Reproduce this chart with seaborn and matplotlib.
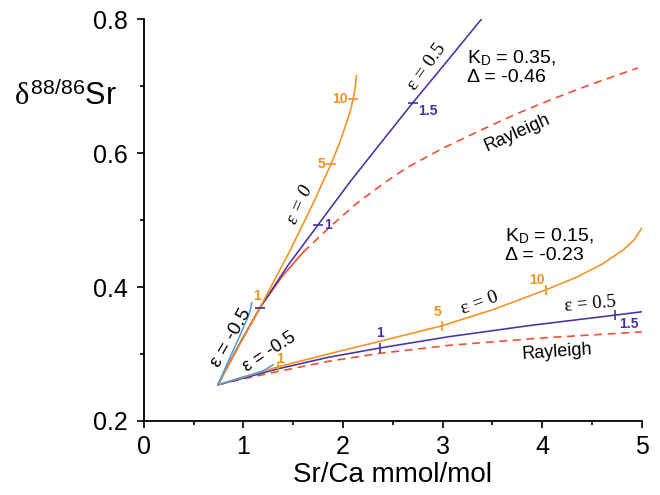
import numpy as np
import pandas as pd
import seaborn as sns
import matplotlib
matplotlib.use("Agg")
import matplotlib.pyplot as plt

# ---- data ----
# KD = 0.35 group (upper)
up_orange_x = [0.743, 0.95, 1.165, 1.47, 1.70, 1.88, 1.96, 2.03, 2.075, 2.10, 2.12, 2.135]
up_orange_y = [0.254, 0.311, 0.369, 0.455, 0.525, 0.584, 0.613, 0.643, 0.664, 0.680, 0.696, 0.716]
up_purple_x = [0.743, 0.95, 1.165, 1.45, 1.75, 2.07, 2.40, 2.70, 3.05, 3.39]
up_purple_y = [0.254, 0.312, 0.369, 0.433, 0.493, 0.557, 0.619, 0.675, 0.738, 0.800]
up_red_x = [0.743, 0.95, 1.165, 1.40, 1.60, 1.87, 2.13, 2.40, 2.64, 3.00, 3.41, 3.75, 4.11, 4.50, 4.96]
up_red_y = [0.254, 0.312, 0.369, 0.418, 0.452, 0.490, 0.524, 0.554, 0.578, 0.607, 0.636, 0.659, 0.681, 0.703, 0.727]
up_blue_x = [0.743, 0.85, 0.96, 1.047, 1.06, 1.075, 1.083]
up_blue_y = [0.254, 0.290, 0.326, 0.356, 0.362, 0.370, 0.377]

# KD = 0.15 group (lower)
lo_orange_x = [0.743, 1.0, 1.35, 1.85, 2.37, 2.99, 3.5, 4.04, 4.35, 4.6, 4.81, 4.92, 5.0]
lo_orange_y = [0.254, 0.266, 0.281, 0.300, 0.319, 0.342, 0.366, 0.396, 0.415, 0.434, 0.455, 0.470, 0.488]
lo_purple_x = [0.743, 1.0, 1.35, 1.85, 2.37, 3.07, 3.9, 4.73, 5.0]
lo_purple_y = [0.254, 0.264, 0.278, 0.295, 0.309, 0.326, 0.343, 0.358, 0.363]
lo_red_x = [0.743, 1.0, 1.35, 1.85, 2.37, 3.07, 4.0, 5.0]
lo_red_y = [0.254, 0.263, 0.274, 0.289, 0.301, 0.313, 0.324, 0.333]
lo_blue_x = [0.743, 0.9, 1.065, 1.2, 1.3]
lo_blue_y = [0.254, 0.261, 0.268, 0.275, 0.284]

# tick marks on curves (labels, positions)
up_orange_ticks = ["1", "5", "10"]
up_orange_tx = [1.165, 1.88, 2.10]
up_orange_ty = [0.369, 0.584, 0.680]
up_purple_ticks = ["", "1", "1.5"]
up_purple_tx = [1.165, 1.75, 2.70]
up_purple_ty = [0.369, 0.493, 0.675]
lo_orange_ticks = ["1", "5", "10"]
lo_orange_tx = [1.35, 2.99, 4.04]
lo_orange_ty = [0.281, 0.342, 0.396]
lo_purple_ticks = ["1", "1.5"]
lo_purple_tx = [2.37, 4.73]
lo_purple_ty = [0.309, 0.358]

RED_SOLID_END = 4  # index where upper Rayleigh switches to dashed

ORANGE = "#F7901E"
PURPLE = "#4533A6"
RED = "#F5492A"
BLUE = "#4FA0D6"

sns.set_theme(style="ticks")
plt.rcParams["font.family"] = ["Liberation Sans", "DejaVu Sans"]
plt.rcParams["mathtext.fontset"] = "custom"
plt.rcParams["mathtext.rm"] = "Liberation Sans"
plt.rcParams["mathtext.it"] = "Liberation Serif"
plt.rcParams["mathtext.bf"] = "Liberation Sans:bold"
for k in ["text.color", "axes.labelcolor", "xtick.color", "ytick.color", "axes.edgecolor"]:
    plt.rcParams[k] = "black"

fig = plt.figure(figsize=(6.6, 4.95), dpi=100)
ax = fig.add_axes([0.218, 0.1495, 0.7545, 0.8121])

lw = 1.15
def line(x, y, color, ls="-"):
    sns.lineplot(x=x, y=y, sort=False, estimator=None, color=color,
                 linewidth=lw, linestyle=ls, ax=ax, solid_joinstyle="round")

# lower group
line(lo_red_x, lo_red_y, RED, (0, (5, 3.5)))
line(lo_purple_x, lo_purple_y, PURPLE)
line(lo_orange_x, lo_orange_y, ORANGE)
line(lo_blue_x, lo_blue_y, BLUE)
# upper group
line(up_red_x[:RED_SOLID_END + 1], up_red_y[:RED_SOLID_END + 1], RED)
line(up_red_x[RED_SOLID_END:], up_red_y[RED_SOLID_END:], RED, (0, (5, 3.5)))
line(up_purple_x, up_purple_y, PURPLE)
line(up_orange_x, up_orange_y, ORANGE)
line(up_blue_x, up_blue_y, BLUE)

# curve tick marks
ax.plot(up_orange_tx, up_orange_ty, ls="none", marker="_", ms=7, mew=1.2, color=ORANGE)
ax.plot(up_purple_tx, up_purple_ty, ls="none", marker="_", ms=7, mew=1.2, color=PURPLE)
ax.plot(lo_orange_tx, lo_orange_ty, ls="none", marker="|", ms=7, mew=1.2, color=ORANGE)
ax.plot(lo_purple_tx, lo_purple_ty, ls="none", marker="|", ms=7, mew=1.2, color=PURPLE)

# tick labels on curves
num_kw = dict(fontsize=10, fontweight="bold", ha="center", va="center")
uo_off = [(-0.025, 0.017), (-0.10, 0.0), (-0.13, 0.001)]
for lab, x, y, (dx, dy) in zip(up_orange_ticks, up_orange_tx, up_orange_ty, uo_off):
    ax.text(x + dx, y + dy, lab, color=ORANGE, **num_kw)
up_off = [(0, 0), (0.10, 0.0), (0.15, -0.013)]
for lab, x, y, (dx, dy) in zip(up_purple_ticks, up_purple_tx, up_purple_ty, up_off):
    if lab:
        ax.text(x + dx, y + dy, lab, color=PURPLE, **num_kw)
lo_off = [(0.015, 0.011), (-0.04, 0.020), (-0.09, 0.014)]
for lab, x, y, (dx, dy) in zip(lo_orange_ticks, lo_orange_tx, lo_orange_ty, lo_off):
    ax.text(x + dx, y + dy, lab, color=ORANGE, **num_kw)
lp_off = [(0.0, 0.023), (0.14, -0.013)]
for lab, x, y, (dx, dy) in zip(lo_purple_ticks, lo_purple_tx, lo_purple_ty, lp_off):
    ax.text(x + dx, y + dy, lab, color=PURPLE, **num_kw)

# annotations
serif = ["Liberation Serif", "DejaVu Serif"]
ax.text(1.566, 0.522, "ε = 0", family=serif, style="italic", fontsize=14,
        rotation=66, ha="center", va="center")
ax.text(2.84, 0.728, "ε = 0.5", family=serif, fontsize=14,
        rotation=54, ha="center", va="center")
ax.text(3.37, 0.376, "ε = 0", family=serif, fontsize=14,
        rotation=20, ha="center", va="center")
ax.text(4.48, 0.374, "ε = 0.5", family=serif, fontsize=13.5,
        rotation=5, ha="center", va="center")
ax.text(0.88, 0.324, "ε = -0.5", fontsize=14, rotation=60, ha="center", va="center")
ax.text(1.265, 0.303, "ε = -0.5", fontsize=13, rotation=33, ha="center", va="center")
ax.text(3.745, 0.630, "Rayleigh", fontsize=13, rotation=24, ha="center", va="center")
ax.text(4.15, 0.303, "Rayleigh", fontsize=13, rotation=4, ha="center", va="center")

ax.text(3.24, 0.734, r"K$_\mathrm{D}$ = 0.35,", fontsize=14, ha="left", va="baseline")
ax.text(3.24, 0.706, "Δ = -0.46", fontsize=14, ha="left", va="baseline")
ax.text(3.625, 0.468, r"K$_\mathrm{D}$ = 0.15,", fontsize=14, ha="left", va="baseline")
ax.text(3.625, 0.440, "Δ = -0.23", fontsize=14, ha="left", va="baseline")

# axes
ax.set_xlim(0, 5)
ax.set_ylim(0.2, 0.8)
ax.set_xticks([0, 1, 2, 3, 4, 5])
ax.set_xticks(np.arange(0.5, 5, 1.0), minor=True)
ax.set_yticks([0.2, 0.4, 0.6, 0.8])
ax.set_yticks([0.3, 0.5, 0.7], minor=True)
ax.tick_params(which="major", length=5, width=1.2, labelsize=18, color="black")
ax.tick_params(axis="y", which="major", pad=6.5)
ax.tick_params(axis="x", which="major", pad=5)
ax.tick_params(which="minor", length=3, width=1.2, color="black")
for s in ["top", "right"]:
    ax.spines[s].set_visible(False)
for s in ["left", "bottom"]:
    ax.spines[s].set_linewidth(1.3)
    ax.spines[s].set_color("black")

ax.set_xlabel("Sr/Ca mmol/mol", fontsize=20, labelpad=2)
ax.set_ylabel(r"$\mathit{\delta}^{88/86}$Sr", fontsize=22, rotation=0,
              ha="center", va="center")
ax.yaxis.set_label_coords(-0.157, 0.806)

fig.savefig("out.png", dpi=100)
